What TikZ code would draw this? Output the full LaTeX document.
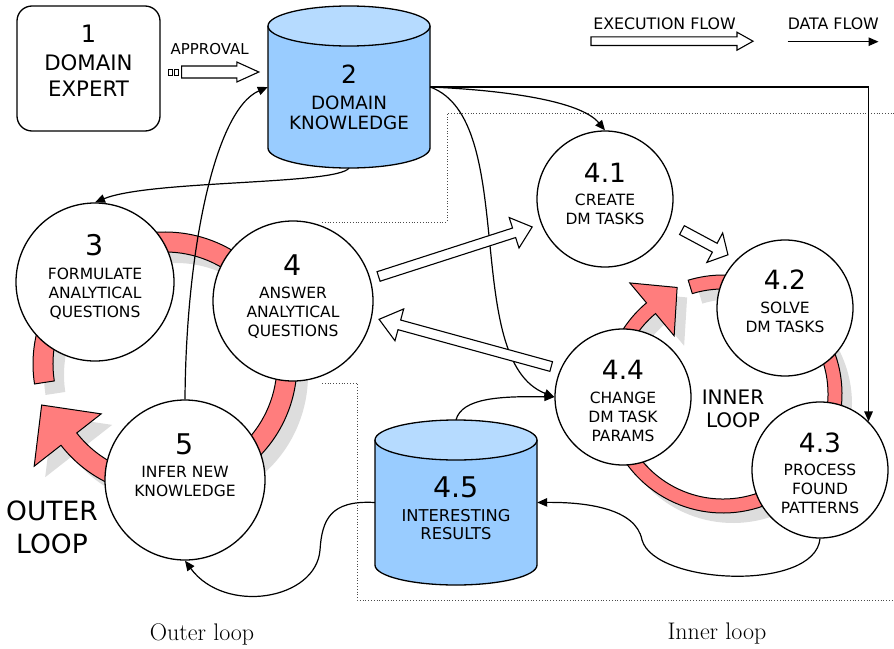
\documentclass[tikz,border=0pt]{standalone}
\usepackage{fontspec}
\newfontfamily\dejavu{DejaVu Sans}
\usetikzlibrary{arrows.meta, calc}
\definecolor{dbblue}{RGB}{153,204,255}
\definecolor{dbtop}{RGB}{182,219,255}
\definecolor{looppink}{RGB}{255,125,125}
\definecolor{loopgray}{RGB}{221,221,221}

% hollow execution-flow arrow: shaft half width, head half width, head length, from, to
\newcommand{\flowarrow}[5]{%
  \coordinate (fa) at #4;
  \coordinate (fb) at #5;
  \coordinate (fc) at ($(fb)!#3!(fa)$);
  \draw[flowbox] ($(fa)!#1!-90:(fb)$) -- ($(fc)!#1!-90:(fb)$) -- ($(fc)!#2!-90:(fb)$) -- (fb)
    -- ($(fc)!#2!90:(fb)$) -- ($(fc)!#1!90:(fb)$) -- ($(fa)!#1!90:(fb)$) -- cycle;}

\begin{document}
\begin{tikzpicture}[x=1pt, y=1pt,
    proc/.style={circle, draw, line width=1.3pt, fill=white, inner sep=0pt},
    proclabel/.style={align=center, font=\dejavu\fontsize{15.5}{19}\selectfont},
    data/.style={line width=1.2pt, -{Triangle[length=10pt, width=8.5pt]}},
    flowbox/.style={draw, fill=white, line width=1.1pt},
    band/.style={fill=looppink, draw=black, line width=1pt},
    bandshadow/.style={fill=loopgray},
    frame/.style={dotted, line width=0.8pt, black!70}]

    \useasboundingbox (0,0) rectangle (894,-648);

    % dotted borders
    \draw[frame] (322,-222) -- (447,-222) -- (447,-113) -- (894,-113);
    \draw[frame] (322,-383) -- (357,-383) -- (357,-600) -- (894,-600);

    % outer loop band
    \foreach \d/\sty in {11/bandshadow, 0/band} {
        \begin{scope}[shift={(165+\d,-364-\d)}]
            \path[\sty] (188.7:112) arc[start angle=188.7, end angle=-142, radius=112]
                -- (-142:81) -- (198.4:130) -- (-142:166) -- (-142:132)
                arc[start angle=-142, end angle=188.7, radius=132] -- cycle;
        \end{scope}
    }
    % inner loop band
    \foreach \d/\sty in {10/bandshadow, 0/band} {
        \begin{scope}[shift={(723+\d,-394-\d)}]
            \path[\sty] (107:105) arc[start angle=107, end angle=-230, radius=105]
                -- (-230:76) -- (113.3:116) -- (-230:145) -- (-230:119)
                arc[start angle=-230, end angle=107, radius=119] -- cycle;
        \end{scope}
    }

    % processes
    \node[proc, minimum size=158] (c3) at (95,-282) {};
    \node[proc, minimum size=160] (c4) at (293,-301) {};
    \node[proc, minimum size=160] (c5) at (185,-480) {};
    \node[proc, minimum size=136] (c41) at (605,-199) {};
    \node[proc, minimum size=136] (c42) at (785,-308) {};
    \node[proc, minimum size=136] (c44) at (623,-397) {};
    \node[proc, minimum size=136] (c43) at (820,-470) {};

    \node[proclabel] (c3txt) at (95,-277.4) {{\fontsize{28.5}{28.5}\selectfont 3}\\[5pt]FORMULATE\\ANALYTICAL\\QUESTIONS};
    \node[proclabel] (c4txt) at (293,-296.7) {{\fontsize{28.5}{28.5}\selectfont 4}\\[3.5pt]ANSWER\\ANALYTICAL\\QUESTIONS};
    \node[proclabel] (c5txt) at (185,-464.9) {{\fontsize{28.5}{28.5}\selectfont 5}\\[4.3pt]INFER NEW\\KNOWLEDGE};
    \node[proclabel] (c41txt) at (605,-193.7) {{\fontsize{26.5}{26.5}\selectfont 4.1}\\[4.3pt]CREATE\\DM TASKS};
    \node[proclabel] (c42txt) at (785,-301.4) {{\fontsize{26.5}{26.5}\selectfont 4.2}\\[5.5pt]SOLVE\\DM TASKS};
    \node[proclabel] (c44txt) at (623,-400.9) {{\fontsize{26.5}{26.5}\selectfont 4.4}\\[4.3pt]CHANGE\\DM TASK\\PARAMS};
    \node[proclabel] (c43txt) at (820,-473.4) {{\fontsize{26.5}{26.5}\selectfont 4.3}\\[4.3pt]PROCESS\\FOUND\\PATTERNS};

    % domain expert
    \node[draw, line width=1.3pt, rounded corners=15pt, minimum width=143, minimum height=125] (expert) at (88.5,-68.5) {};
    \node[align=center, font=\dejavu\fontsize{21.3}{26}\selectfont] (experttxt) at (88.5,-60.9)
        {{\fontsize{24}{24}\selectfont 1}\\[2.4pt]DOMAIN\\EXPERT};

    % domain knowledge store
    \fill[dbblue] (268,-26) -- (268,-148) arc[start angle=180, end angle=360, x radius=81, y radius=20] -- (430,-26) -- cycle;
    \draw[line width=1.3pt] (268,-26) -- (268,-148) arc[start angle=180, end angle=360, x radius=81, y radius=20] -- (430,-26);
    \draw[line width=1.3pt, fill=dbtop] (349,-26) ellipse[x radius=81, y radius=20];
    \node[minimum width=162, minimum height=162, inner sep=0pt] (db2) at (349,-87) {};
    \node[align=center, font=\dejavu\fontsize{18.3}{20}\selectfont] (db2txt) at (349,-97.4)
        {{\fontsize{25}{25}\selectfont 2}\\[6.4pt]DOMAIN\\KNOWLEDGE};

    % interesting results store
    \fill[dbblue] (375,-440) -- (375,-565) arc[start angle=180, end angle=360, x radius=81, y radius=20] -- (537,-440) -- cycle;
    \draw[line width=1.3pt] (375,-440) -- (375,-565) arc[start angle=180, end angle=360, x radius=81, y radius=20] -- (537,-440);
    \draw[line width=1.3pt, fill=dbtop] (456,-440) ellipse[x radius=81, y radius=20];
    \node[minimum width=162, minimum height=165, inner sep=0pt] (db45) at (456,-502.5) {};
    \node[align=center, font=\dejavu\fontsize{16.3}{18}\selectfont] (db45txt) at (456,-508.3)
        {{\fontsize{28.5}{28.5}\selectfont 4.5}\\[5.8pt]INTERESTING\\RESULTS};

    % data flow
    \draw[data] (db2.south) .. controls (335,-185) and (150,-180) .. (c3.north);
    \draw[data] (c5.north) .. controls (186,-250) and (215,-110) .. (db2.west);
    \draw[data] (db2.east) .. controls (500,-90) and (580,-100) .. (c41.north);
    \draw[data] (db2.east) .. controls (520,-120) and (460,-360) .. (c44.west);
    \draw[data] (db2.east) -| (c43.45);
    \draw[data] (db45.north) .. controls (462,-398) and (500,-396) .. (c44.west);
    \draw[data] (c43.south) .. controls (815,-592) and (655,-585) .. (642,-540)
        .. controls (636,-508) and (585,-502) .. (db45.east);
    \draw[data] (db45.west) .. controls (330,-500) and (322,-520) .. (320,-550)
        .. controls (316,-600) and (225,-615) .. (c5.south);

    % execution flow
    \flowarrow{6pt}{10pt}{22pt}{($(expert.east)+(21,-3.5)$)}{($(db2.west)+(-9,15)$)}
    \draw[flowbox, line width=0.9pt] ($(fa)+(-13,3)$) rectangle ++(4,-6.5);
    \draw[flowbox, line width=0.9pt] ($(fa)+(-7.5,3)$) rectangle ++(4,-6.5);
    \flowarrow{5pt}{16pt}{19pt}{($(c4)+(16:89)$)}{($(c41)+(201:78)$)}
    \flowarrow{5pt}{16.5pt}{21pt}{($(c44)+(157:78)$)}{($(c4)+(-12:88)$)}
    \flowarrow{5pt}{16.7pt}{15pt}{($(c41)+(-22:83)$)}{($(c42)+(137:78)$)}

    % legend
    \node[font=\dejavu\fontsize{15}{15}\selectfont] (approval) at (209.7,-49.2) {APPROVAL};
    \node[font=\dejavu\fontsize{15.8}{15.8}\selectfont] (execlbl) at (664.5,-23.3) {EXECUTION FLOW};
    \node[font=\dejavu\fontsize{15.8}{15.8}\selectfont] (datalbl) at (833.3,-23.3) {DATA FLOW};
    \coordinate (execstart) at (591,-41.2);
    \coordinate (execend) at (753,-41.2);
    \flowarrow{4.3pt}{9pt}{16pt}{(execstart)}{(execend)}
    \coordinate (datastart) at (787.5,-41.7);
    \coordinate (dataend) at (878.5,-41.7);
    \draw[data] (datastart) -- (dataend);

    % loop names
    \node[align=center, font=\dejavu\fontsize{26.5}{33}\selectfont] (outerloop) at (52,-527.5) {OUTER\\LOOP};
    \node[align=center, font=\dejavu\fontsize{20}{23}\selectfont] (innerloop) at (733,-409) {INNER\\LOOP};
    \node[font=\fontsize{24}{24}\selectfont] (outercap) at (202,-634) {Outer loop};
    \node[font=\fontsize{24}{24}\selectfont] (innercap) at (717,-634) {Inner loop};
\end{tikzpicture}
\end{document}
